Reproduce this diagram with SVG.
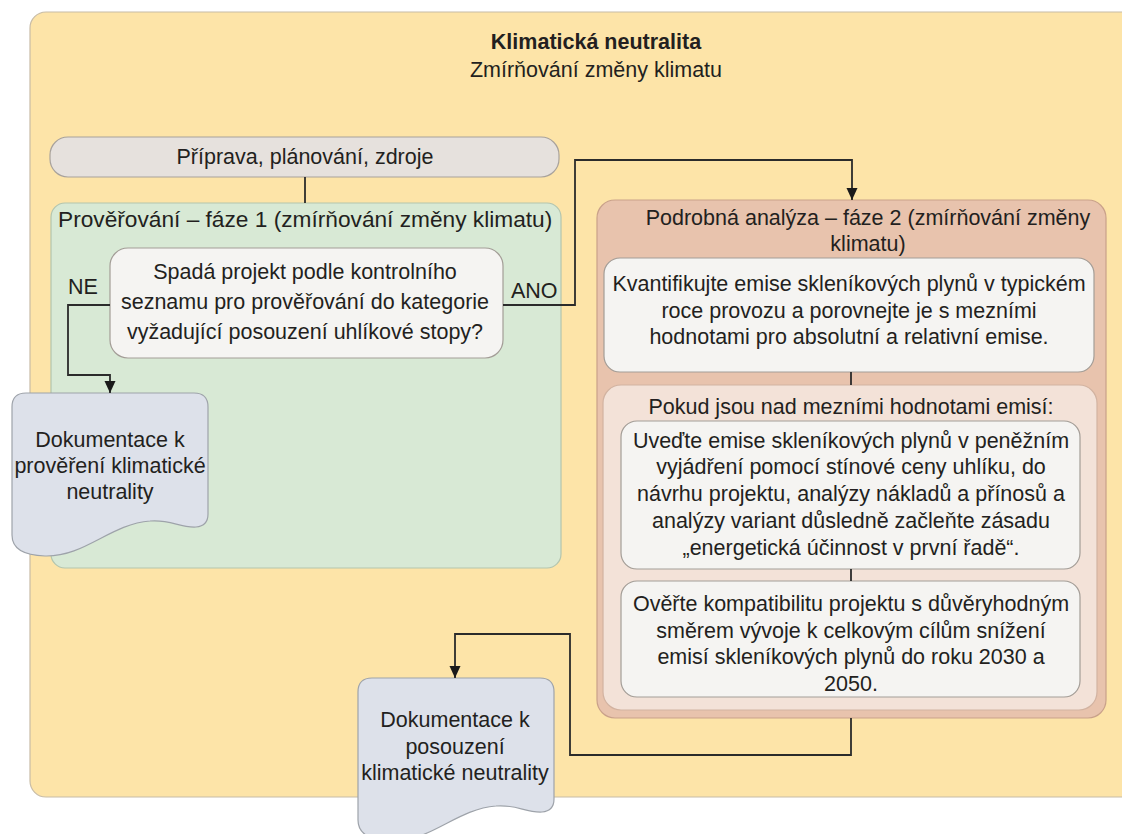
<svg xmlns="http://www.w3.org/2000/svg" width="1122" height="834" viewBox="0 0 1122 834">
<defs>
<style>
text{font-family:"Liberation Sans",Arial,sans-serif;font-size:21.5px;fill:#231f20}
.c{text-anchor:middle}
.b{font-weight:bold}
.conn{fill:none;stroke:#2b2b2b;stroke-width:1.8}
.q{fill:#f5f4f2;stroke:#a39d97;stroke-width:1.2}
.doc{fill:#dde1ea;stroke:#9ea3aa;stroke-width:1.2}
</style>
<marker id="arr" markerUnits="userSpaceOnUse" markerWidth="14" markerHeight="14" viewBox="0 0 14 14" refX="12" refY="7" orient="auto">
<path d="M0,1.5 L12,7 L0,12.5 Z" fill="#1a1a1a"/>
</marker>
</defs>
<rect width="1122" height="834" fill="#ffffff"/>
<g id="outer">
<rect x="30" y="12" width="1120" height="785" rx="16" fill="#fde4a8" stroke="#c8bca6" stroke-width="1.2"/>
<text class="c b" x="596" y="49">Klimatická neutralita</text>
<text class="c" x="596" y="77">Zmírňování změny klimatu</text>
</g>
<g id="prep">
<rect x="50" y="137" width="509" height="40" rx="18" fill="#e6e1dd" stroke="#a8a29c" stroke-width="1.2"/>
<text class="c" x="305" y="164">Příprava, plánování, zdroje</text>
</g>
<g id="phase1">
<rect x="51" y="203" width="510" height="365" rx="14" fill="#d8e9d5" stroke="#b3c5ae" stroke-width="1.2"/>
<text x="58" y="227" style="font-size:22.7px">Prověřování – fáze 1 (zmírňování změny klimatu)</text>
</g>
<g id="question">
<rect class="q" x="110" y="248" width="393" height="110" rx="18"/>
<text class="c" x="305" y="279">Spadá projekt podle kontrolního</text>
<text class="c" x="305" y="309">seznamu pro prověřování do kategorie</text>
<text class="c" x="305" y="339">vyžadující posouzení uhlíkové stopy?</text>
</g>
<g id="doc1">
<path class="doc" d="M26,393 H194 Q208,393 208,407 V514 Q208,526 196,527 C180,528 170,519 150,521 C110,524 85,557 45,556 Q12,555 12,535 V407 Q12,393 26,393 Z"/>
<text class="c" x="110" y="447">Dokumentace k</text>
<text class="c" x="110" y="473">prověření klimatické</text>
<text class="c" x="110" y="499">neutrality</text>
</g>
<g id="phase2">
<rect x="597" y="200" width="509" height="518" rx="18" fill="#e8c3ad" stroke="#c9a18a" stroke-width="1.2"/>
<text class="c" x="868" y="225">Podrobná analýza – fáze 2 (zmírňování změny</text>
<text class="c" x="868" y="251">klimatu)</text>
</g>
<g id="quantify">
<rect class="q" x="604" y="258" width="490" height="114" rx="16"/>
<text class="c" x="849" y="291">Kvantifikujte emise skleníkových plynů v typickém</text>
<text class="c" x="849" y="318">roce provozu a porovnejte je s mezními</text>
<text class="c" x="849" y="344">hodnotami pro absolutní a relativní emise.</text>
</g>
<g id="above">
<rect x="603" y="385" width="494" height="325" rx="18" fill="#f3e2d8" stroke="#d2b3a1" stroke-width="1.2"/>
<text class="c" x="851" y="414">Pokud jsou nad mezními hodnotami emisí:</text>
</g>
<g id="monetise">
<rect class="q" x="621" y="421" width="459" height="148" rx="16"/>
<text class="c" x="851" y="448">Uveďte emise skleníkových plynů v peněžním</text>
<text class="c" x="851" y="474">vyjádření pomocí stínové ceny uhlíku, do</text>
<text class="c" x="851" y="501">návrhu projektu, analýzy nákladů a přínosů a</text>
<text class="c" x="851" y="528">analýzy variant důsledně začleňte zásadu</text>
<text class="c" x="851" y="555">„energetická účinnost v první řadě“.</text>
</g>
<g id="verify">
<rect class="q" x="621" y="581" width="459" height="116" rx="16"/>
<text class="c" x="851" y="611">Ověřte kompatibilitu projektu s důvěryhodným</text>
<text class="c" x="851" y="638">směrem vývoje k celkovým cílům snížení</text>
<text class="c" x="851" y="664">emisí skleníkových plynů do roku 2030 a</text>
<text class="c" x="851" y="691">2050.</text>
</g>
<g id="doc2">
<path class="doc" d="M372,678 H540 Q554,678 554,692 V799 Q554,811 542,812 C526,813 516,804 496,806 C456,809 431,842 391,841 Q358,840 358,820 V692 Q358,678 372,678 Z"/>
<text class="c" x="455" y="727">Dokumentace k</text>
<text class="c" x="455" y="754">posouzení</text>
<text class="c" x="455" y="780">klimatické neutrality</text>
</g>
<g id="connectors">
<path class="conn" d="M305,177 V203"/>
<path class="conn" d="M110,305 H68 V375 H110 V393" marker-end="url(#arr)"/>
<path class="conn" d="M503,305 H575 V160 H852 V200" marker-end="url(#arr)"/>
<path class="conn" d="M851,372 V385"/>
<path class="conn" d="M851,569 V581"/>
<path class="conn" d="M851,718 V755 H570 V634 H455 V678" marker-end="url(#arr)"/>
<text x="68" y="294">NE</text>
<text x="511" y="298">ANO</text>
</g>
</svg>
